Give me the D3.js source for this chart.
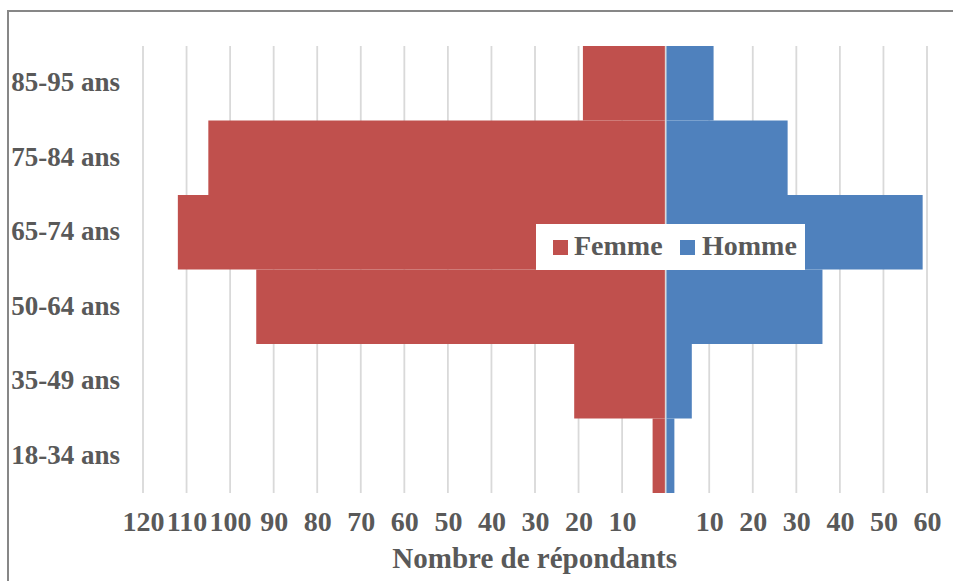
<!DOCTYPE html>
<html>
<head>
<meta charset="utf-8">
<script src="https://cdn.jsdelivr.net/npm/d3@7"></script>
<style>
  html, body { margin: 0; padding: 0; background: #fff; }
  svg { display: block; }
  text { font-family: "Liberation Serif", "DejaVu Serif", serif; font-weight: bold; fill: #595959; }
</style>
</head>
<body>
<svg id="chart" width="953" height="581"></svg>
<script>
// Age groups, top to bottom
const ageGroups = ["85-95 ans", "75-84 ans", "65-74 ans", "50-64 ans", "35-49 ans", "18-34 ans"];
// Respondents per age group (same order)
const femme = [19, 105, 112, 94, 21, 3];
const homme = [11, 28, 59, 36, 6, 2];
// Axis ticks (women drawn to the left of zero)
const tickValues = [-120, -110, -100, -90, -80, -70, -60, -50, -40, -30, -20, -10, 0, 10, 20, 30, 40, 50, 60];
const seriesNames = ["Femme", "Homme"];
const colors = { Femme: "#C0504D", Homme: "#4F81BD" };

const svg = d3.select("#chart");

// Outer frame (top and left edges visible)
svg.append("path")
  .attr("d", "M8,582 L8,11 L954,11")
  .attr("fill", "none")
  .attr("stroke", "#878787")
  .attr("stroke-width", 2);

const plot = { left: 143, right: 927, top: 46, bottom: 493 };

const x = d3.scaleLinear().domain([-120, 60]).range([plot.left, plot.right]);
const y = d3.scaleBand().domain(ageGroups).range([plot.top, plot.bottom]).paddingInner(0).paddingOuter(0);

// Vertical gridlines
svg.append("g").selectAll("line")
  .data(tickValues)
  .join("line")
  .attr("x1", d => x(d)).attr("x2", d => x(d))
  .attr("y1", plot.top).attr("y2", plot.bottom)
  .attr("stroke", "#D9D9D9")
  .attr("stroke-width", 1.8);

// Bars: women to the left, men to the right
const rows = ageGroups.map((g, i) => ({ group: g, Femme: femme[i], Homme: homme[i] }));
const gap = 0.8;

svg.append("g").selectAll("rect")
  .data(rows)
  .join("rect")
  .attr("x", d => x(-d.Femme))
  .attr("y", d => y(d.group))
  .attr("width", d => x(0) - x(-d.Femme) - gap)
  .attr("height", y.bandwidth())
  .attr("fill", colors.Femme);

svg.append("g").selectAll("rect")
  .data(rows)
  .join("rect")
  .attr("x", x(0) + gap)
  .attr("y", d => y(d.group))
  .attr("width", d => x(d.Homme) - x(0) - gap)
  .attr("height", y.bandwidth())
  .attr("fill", colors.Homme);

// Category labels
svg.append("g").selectAll("text")
  .data(ageGroups)
  .join("text")
  .attr("x", 120)
  .attr("y", d => y(d) + y.bandwidth() / 2 - 1.5)
  .attr("dy", "0.35em")
  .attr("text-anchor", "end")
  .attr("font-size", 27)
  .text(d => d);

// Bottom axis: absolute values, zero left blank
const xAxis = d3.axisBottom(x)
  .tickValues(tickValues)
  .tickSize(0)
  .tickPadding(0)
  .tickFormat(d => d === 0 ? "" : Math.abs(d));

const gx = svg.append("g")
  .attr("transform", `translate(0, 511)`)
  .call(xAxis);
gx.select(".domain").remove();
gx.selectAll("text")
  .attr("font-size", 28)
  .attr("font-family", null)
  .attr("fill", null)
  .attr("dy", "0.7em");

// Axis title
svg.append("text")
  .attr("x", x(0) - 131)
  .attr("y", 568)
  .attr("text-anchor", "middle")
  .attr("font-size", 29)
  .text("Nombre de répondants");

// Legend
const legend = svg.append("g");
legend.append("rect")
  .attr("x", 536).attr("y", 224)
  .attr("width", 269).attr("height", 46)
  .attr("fill", "#fff");

const legendItems = [
  { name: seriesNames[0], sx: 553, tx: 574 },
  { name: seriesNames[1], sx: 680, tx: 702 }
];
legend.selectAll("g.item")
  .data(legendItems)
  .join("g")
  .attr("class", "item")
  .each(function(d) {
    const g = d3.select(this);
    g.append("rect")
      .attr("x", d.sx).attr("y", 240)
      .attr("width", 15).attr("height", 15)
      .attr("fill", colors[d.name]);
    g.append("text")
      .attr("x", d.tx).attr("y", 255)
      .attr("font-size", 28)
      .text(d.name);
  });
</script>
</body>
</html>
